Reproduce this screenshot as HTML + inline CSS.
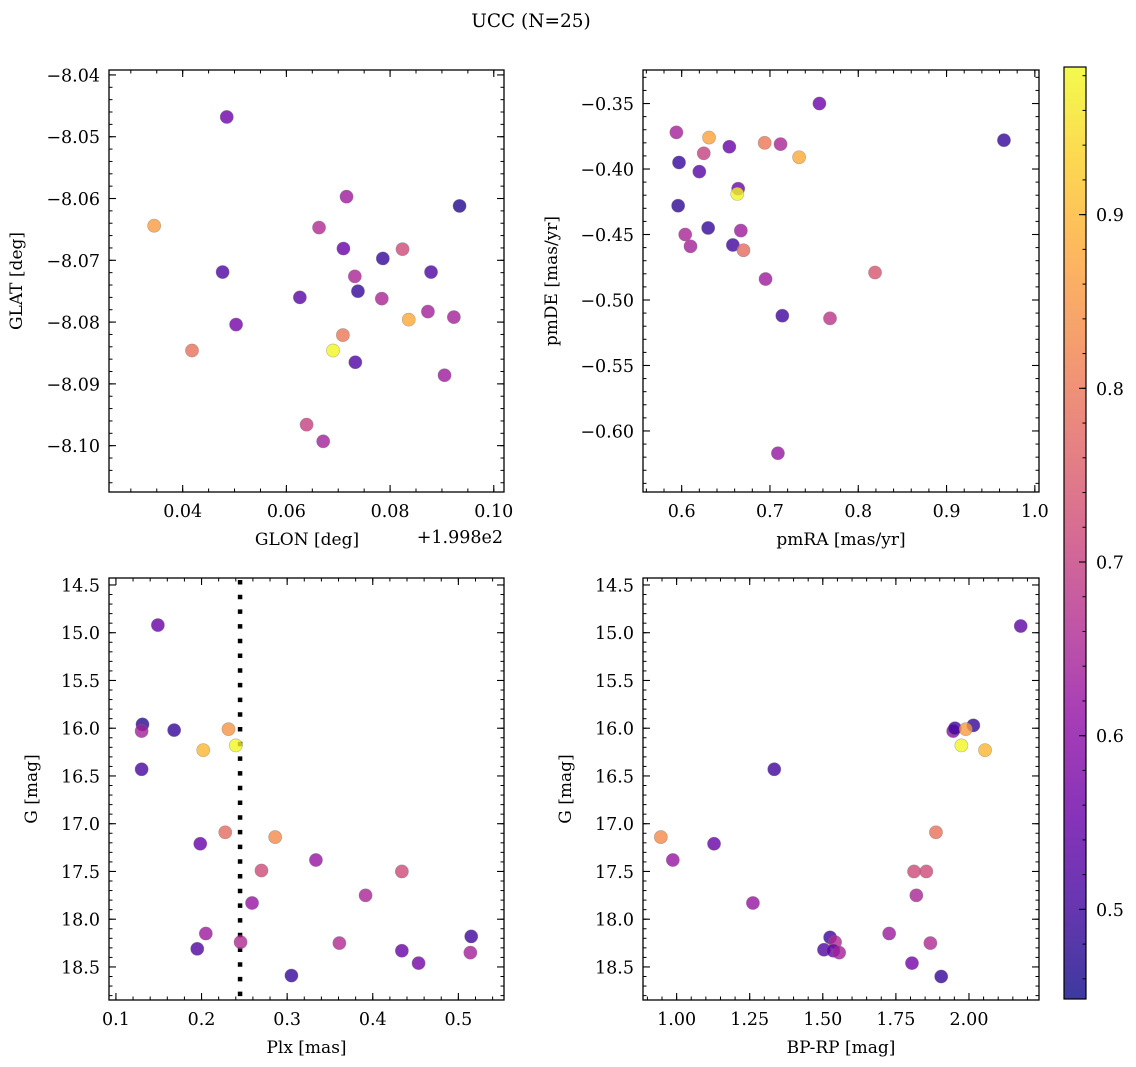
<!DOCTYPE html>
<html><head><meta charset="utf-8"><style>
html,body{margin:0;padding:0;background:#fff;}
svg{display:block;font-family:"DejaVu Serif","Liberation Serif",serif;}
</style></head>
<body>
<svg id="fig" width="1136" height="1067" viewBox="0 0 1136 1067" xmlns="http://www.w3.org/2000/svg">
<rect width="1136" height="1067" fill="#fff"/>
<text x="531" y="27" font-size="18.5" text-anchor="middle">UCC (N=25)</text>
<defs>
<linearGradient id="cbg" x1="0" y1="1" x2="0" y2="0"></linearGradient>
</defs>
</svg>
<script>
// ---- data ----
const glon = [0.0485,0.0345,0.0477,0.0503,0.0418,0.0626,0.0639,0.0671,0.0663,0.0716,0.0710,0.0732,0.0738,0.0709,0.0690,0.0733,0.0786,0.0784,0.0824,0.0836,0.0879,0.0873,0.0923,0.0934,0.0905];
const glat = [-8.0468,-8.0644,-8.0719,-8.0804,-8.0846,-8.0760,-8.0966,-8.0993,-8.0647,-8.0597,-8.0681,-8.0726,-8.0750,-8.0821,-8.0846,-8.0865,-8.0697,-8.0762,-8.0682,-8.0796,-8.0719,-8.0783,-8.0792,-8.0612,-8.0886];
const probTL = [0.56,0.86,0.52,0.57,0.79,0.53,0.70,0.64,0.66,0.63,0.55,0.65,0.49,0.80,0.98,0.52,0.49,0.65,0.72,0.88,0.52,0.64,0.64,0.47,0.63];

const pmra = [0.594,0.631,0.654,0.694,0.712,0.733,0.756,0.625,0.597,0.620,0.664,0.663,0.596,0.630,0.667,0.604,0.610,0.658,0.670,0.695,0.819,0.714,0.768,0.965,0.709];
const pmde = [-0.372,-0.376,-0.383,-0.380,-0.381,-0.391,-0.350,-0.388,-0.395,-0.402,-0.415,-0.419,-0.428,-0.445,-0.447,-0.450,-0.459,-0.458,-0.462,-0.484,-0.479,-0.512,-0.514,-0.378,-0.617];
const probTR = [0.64,0.87,0.55,0.80,0.65,0.88,0.56,0.70,0.49,0.53,0.56,0.98,0.48,0.49,0.63,0.65,0.64,0.50,0.78,0.63,0.74,0.50,0.68,0.49,0.62];

const plx = [0.149,0.131,0.130,0.168,0.2315,0.202,0.240,0.130,0.2277,0.1985,0.286,0.3336,0.270,0.434,0.3916,0.259,0.205,0.515,0.2456,0.361,0.195,0.434,0.514,0.4535,0.305];
const gBL = [14.92,15.96,16.03,16.02,16.01,16.23,16.18,16.43,17.09,17.21,17.14,17.38,17.49,17.50,17.75,17.83,18.15,18.18,18.24,18.25,18.31,18.33,18.35,18.46,18.59];
const probBL = [0.55,0.48,0.64,0.49,0.85,0.90,0.98,0.51,0.78,0.55,0.83,0.62,0.72,0.72,0.65,0.62,0.63,0.50,0.66,0.66,0.52,0.55,0.64,0.57,0.49];
const plxLine = [0.245];

const bprp = [2.177,1.946,1.952,2.015,1.989,1.974,2.055,1.334,0.946,1.887,1.128,0.987,1.812,1.854,1.820,1.261,1.727,1.525,1.542,1.868,1.504,1.536,1.556,1.805,1.905];
const gBR = [14.93,16.03,16.00,15.97,16.01,16.18,16.23,16.43,17.14,17.09,17.21,17.38,17.50,17.50,17.75,17.83,18.15,18.19,18.24,18.25,18.32,18.33,18.35,18.46,18.60];
const probBR = [0.54,0.60,0.50,0.49,0.86,0.98,0.90,0.50,0.83,0.79,0.55,0.62,0.72,0.72,0.65,0.62,0.63,0.50,0.66,0.66,0.52,0.55,0.64,0.57,0.49];

const cbTicks = [0.5,0.6,0.7,0.8,0.9];
const tlXTicks = [0.04,0.06,0.08,0.10];
const tlYTicks = [-8.04,-8.05,-8.06,-8.07,-8.08,-8.09,-8.10];
const trXTicks = [0.6,0.7,0.8,0.9,1.0];
const trYTicks = [-0.35,-0.40,-0.45,-0.50,-0.55,-0.60];
const blXTicks = [0.1,0.2,0.3,0.4,0.5];
const gTicks = [14.5,15.0,15.5,16.0,16.5,17.0,17.5,18.0,18.5];
const brXTicks = [1.00,1.25,1.50,1.75,2.00];

const VMIN = 0.4484, VMAX = 0.985;
const NS = "http://www.w3.org/2000/svg";
const svg = document.getElementById('fig');
const FS = 17.5;
const plasma = ["#0d0887","#41049d","#6a00a8","#8f0da4","#b12a90","#cc4778","#e16462","#f2844b","#fca636","#fcce25","#f0f921"];
function hex(h){return [parseInt(h.substr(1,2),16),parseInt(h.substr(3,2),16),parseInt(h.substr(5,2),16)];}
function cmap(t){
  t=Math.max(0,Math.min(1,t)); const f=t*10, i=Math.min(9,Math.floor(f)), r=f-i;
  const a=hex(plasma[i]), b=hex(plasma[i+1]);
  return "rgb("+a.map((v,k)=>Math.round(v+(b[k]-v)*r)).join(",")+")";
}
function el(tag, attrs, parent){
  const e=document.createElementNS(NS,tag);
  for(const k in attrs) e.setAttribute(k,attrs[k]);
  (parent||svg).appendChild(e); return e;
}
function fmt(v,d){ const s=v.toFixed(d); return s.replace('-','\u2212'); }

function panel(cfg){
  const g=el('g',{});
  
  
  const [L,T,R,B]=cfg.box;
  const sx=v=>L+(v-cfg.xd[0])/(cfg.xd[1]-cfg.xd[0])*(R-L);
  const sy=v=>B-(v-cfg.yd[0])/(cfg.yd[1]-cfg.yd[0])*(B-T);
  const mt=(lo,hi,step)=>{const a=[];const s=Math.ceil(lo/step-1e-6);for(let k=s;k*step<=hi+1e-9;k++)a.push(k*step);return a;};
  const xmin=Math.min(...cfg.xd), xmax=Math.max(...cfg.xd), ymin=Math.min(...cfg.yd), ymax=Math.max(...cfg.yd);
  mt(xmin,xmax,cfg.xminor).forEach(v=>{const x=sx(v);
    el('line',{x1:x,y1:B,x2:x,y2:B-3.5,stroke:'#000','stroke-width':1},g);
    el('line',{x1:x,y1:T,x2:x,y2:T+3.5,stroke:'#000','stroke-width':1},g);});
  mt(ymin,ymax,cfg.yminor).forEach(v=>{const y=sy(v);
    el('line',{x1:L,y1:y,x2:L+3.5,y2:y,stroke:'#000','stroke-width':1},g);
    el('line',{x1:R,y1:y,x2:R-3.5,y2:y,stroke:'#000','stroke-width':1},g);});
  cfg.xt.forEach(v=>{const x=sx(v);
    el('line',{x1:x,y1:B,x2:x,y2:B-7,stroke:'#000','stroke-width':1.1},g);
    el('line',{x1:x,y1:T,x2:x,y2:T+7,stroke:'#000','stroke-width':1.1},g);
    const t=el('text',{x:x,y:B+25,'font-size':FS,'text-anchor':'middle'},g);
    
    
    t.textContent=fmt(v,cfg.xdec);});
  cfg.yt.forEach(v=>{const y=sy(v);
    el('line',{x1:L,y1:y,x2:L+7,y2:y,stroke:'#000','stroke-width':1.1},g);
    el('line',{x1:R,y1:y,x2:R-7,y2:y,stroke:'#000','stroke-width':1.1},g);
    const t=el('text',{x:L-9,y:y+6.5,'font-size':FS,'text-anchor':'end'},g);
    
    
    t.textContent=fmt(v,cfg.ydec);});
  if(cfg.vline){cfg.vline.forEach(v=>{
    const l=el('line',{x1:sx(v),y1:T+2,x2:sx(v),y2:B,stroke:'#000','stroke-width':4.5,'stroke-dasharray':'4.5,10.2'},g);
    
    });}
  cfg.xs.forEach((v,i)=>{
    const c=el('circle',{cx:sx(v),cy:sy(cfg.ys[i]),r:6.6,fill:cmap((cfg.c[i]-VMIN)/(VMAX-VMIN)),'fill-opacity':0.8,stroke:'#777','stroke-opacity':0.5,'stroke-width':0.6},g);
    
    
  });
  const fr=el('rect',{x:L,y:T,width:R-L,height:B-T,fill:'none',stroke:'#000','stroke-width':1.3},g);
  
  
  const xl=el('text',{x:cfg.xlx||(L+R)/2,y:B+53,'font-size':17,'text-anchor':'middle'},g);
  
  
  xl.textContent=cfg.xlabel;
  const yl=el('text',{x:0,y:0,'font-size':17,'text-anchor':'middle',transform:'translate('+cfg.ylx+','+(T+B)/2+') rotate(-90)'},g);
  
  
  yl.textContent=cfg.ylabel;
  return g;
}

panel({name:'glon-glat-panel',box:[109,70,504,492],xd:[0.02579,0.10197],yd:[-8.1075,-8.0392],
  xt:tlXTicks,yt:tlYTicks,xminor:0.005,yminor:0.002,xdec:2,ydec:2,xs:glon,ys:glat,c:probTL,
  xlabel:'GLON [deg]',xlx:307,ylabel:'GLAT [deg]',ylx:22});
const off=el('text',{x:503,y:543,'font-size':FS,'text-anchor':'end'});


off.textContent='+1.998e2';

panel({name:'proper-motion-panel',box:[643,70,1039,492],xd:[0.5562,1.0047],yd:[-0.6466,-0.3244],
  xt:trXTicks,yt:trYTicks,xminor:0.02,yminor:0.01,xdec:1,ydec:2,xs:pmra,ys:pmde,c:probTR,
  xlabel:'pmRA [mas/yr]',ylabel:'pmDE [mas/yr]',ylx:557});

panel({name:'plx-g-panel',box:[109,578,504,1000],xd:[0.0919,0.5533],yd:[18.846,14.427],
  xt:blXTicks,yt:gTicks,xminor:0.02,yminor:0.1,xdec:1,ydec:1,xs:plx,ys:gBL,c:probBL,vline:plxLine,
  xlabel:'Plx [mas]',ylabel:'G [mag]',ylx:37});

panel({name:'cmd-panel',box:[643,578,1039,1000],xd:[0.885,2.2395],yd:[18.846,14.427],
  xt:brXTicks,yt:gTicks,xminor:0.05,yminor:0.1,xdec:2,ydec:1,xs:bprp,ys:gBR,c:probBR,
  xlabel:'BP-RP [mag]',ylabel:'G [mag]',ylx:571});

// colorbar
const grad=document.getElementById('cbg');
for(let k=0;k<=20;k++){const s=document.createElementNS(NS,'stop');
  s.setAttribute('offset',k/20);
  s.setAttribute('stop-color',cmap(k/20));
  grad.appendChild(s);}
const cbL=1064,cbR=1086,cbT=67,cbB=999;
const cbY=v=>cbB-(v-VMIN)/(VMAX-VMIN)*(cbB-cbT);
const cb=el('rect',{x:cbL,y:cbT,width:cbR-cbL,height:cbB-cbT,fill:'url(#cbg)','fill-opacity':0.8,stroke:'#000','stroke-width':1.2});


for(let v=0.46;v<0.985;v+=0.02){const y=cbY(v);el('line',{x1:cbR,y1:y,x2:cbR-3.5,y2:y,stroke:'#000','stroke-width':1});}
cbTicks.forEach(v=>{const y=cbY(v);
  el('line',{x1:cbR,y1:y,x2:cbR-7,y2:y,stroke:'#000','stroke-width':1.1});
  const t=el('text',{x:cbR+10,y:y+6.5,'font-size':FS},svg);
  
  
  t.textContent=v.toFixed(1);});
</script>
</body></html>
